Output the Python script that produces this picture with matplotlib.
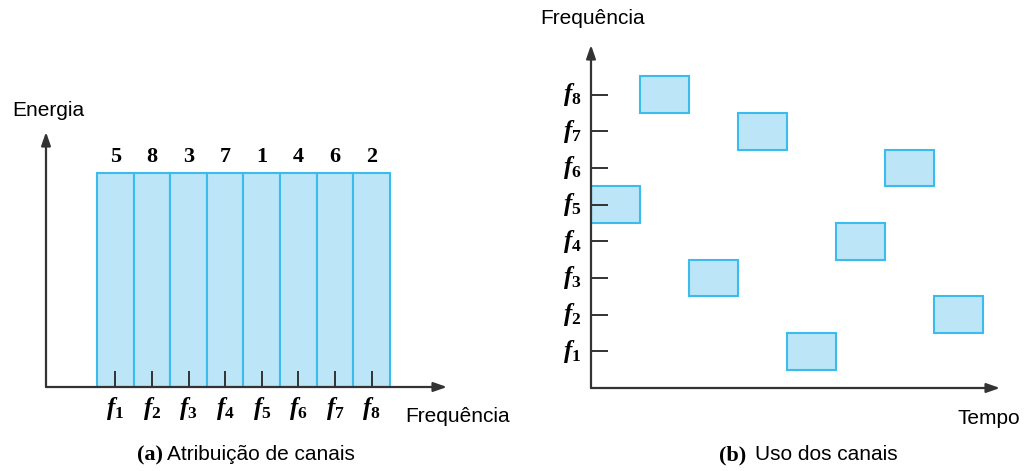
import matplotlib
matplotlib.use("Agg")
import matplotlib.pyplot as plt
import matplotlib as mpl

# channel assignment (left) and channel usage over time (right)
channels = [1, 2, 3, 4, 5, 6, 7, 8]
energy = [1, 1, 1, 1, 1, 1, 1, 1]
order_labels = ["5", "8", "3", "7", "1", "4", "6", "2"]
time_slots = [0, 1, 2, 3, 4, 5, 6, 7]
slot_freq = [5, 8, 3, 7, 1, 4, 6, 2]
freq_ticks = [1, 2, 3, 4, 5, 6, 7, 8]

mpl.rcParams.update({
    "font.family": ["Liberation Sans", "DejaVu Sans"],
    "mathtext.fontset": "custom",
    "mathtext.rm": "Liberation Serif:bold",
    "mathtext.it": "Liberation Serif:italic:bold",
    "mathtext.bf": "Liberation Serif:bold",
})

FILL = "#bde5f8"
EDGE = "#3bbcef"
AXC = "#333333"
W, H = 1025, 471

fig = plt.figure(figsize=(W / 100, H / 100), dpi=100)


def px_box(x0, y0, x1, y1):
    # pixel box (top-left origin) -> figure fraction rect
    return [x0 / W, (H - y1) / H, (x1 - x0) / W, (y1 - y0) / H]


def arrows(ax):
    kw = dict(arrowprops=dict(arrowstyle="-|>,head_length=0.8,head_width=0.28",
                              color=AXC, lw=1.6, shrinkA=0, shrinkB=0),
              xycoords="axes fraction", textcoords="axes fraction")
    ax.annotate("", xy=(1, 0), xytext=(0, 0), **kw)
    ax.annotate("", xy=(0, 1), xytext=(0, 0), **kw)


# ---- (a) channel assignment ----
ax1 = fig.add_axes(px_box(46, 132, 447, 387))
ax1.set_axis_off()
ax1.set_xlim(-0.893, 10.06)
ax1.set_ylim(0, 1.19)
ax1.bar(channels, energy, width=1.0, color=FILL, edgecolor=EDGE, linewidth=1.5)
ax1.vlines(channels, 0, 0.075, color=AXC, lw=1.4)
for c, e, lab in zip(channels, energy, order_labels):
    ax1.text(c, e + 0.075, lab, ha="center", va="center", fontsize=16,
             family="Liberation Serif", fontweight="bold")
    ax1.text(c, -0.1, r"$f_{%d}$" % c, ha="center", va="center", fontsize=18)
arrows(ax1)

# ---- (b) channel usage ----
ax2 = fig.add_axes(px_box(591, 45, 1000, 388))
ax2.set_axis_off()
ax2.set_xlim(0, 8.35)
ax2.set_ylim(0, 9.35)
ax2.bar(time_slots, [1] * len(time_slots), bottom=[f - 0.5 for f in slot_freq],
        width=1.0, align="edge", color=FILL, edgecolor=EDGE, linewidth=1.5)
ax2.hlines(freq_ticks, 0, 0.35, color=AXC, lw=1.4)
for f in freq_ticks:
    ax2.text(-0.38, f, r"$f_{%d}$" % f, ha="center", va="center", fontsize=18)
arrows(ax2)

# ---- labels ----
fs = 15
fig.text(12 / W, (H - 110) / H, "Energia", fontsize=fs, va="center", ha="left")
fig.text(405 / W, (H - 417) / H, "Frequência", fontsize=fs, va="center", ha="left")
fig.text(540 / W, (H - 19) / H, "Frequência", fontsize=fs, va="center", ha="left")
fig.text(1020 / W, (H - 418) / H, "Tempo", fontsize=fs, va="center", ha="right")

fig.text(163 / W, (H - 455) / H, "(a)", fontsize=16, va="center", ha="right",
         family="Liberation Serif", fontweight="bold")
fig.text(167 / W, (H - 455) / H, "Atribuição de canais", fontsize=fs,
         va="center", ha="left")
fig.text(746 / W, (H - 455) / H, "(b)", fontsize=16, va="center", ha="right",
         family="Liberation Serif", fontweight="bold")
fig.text(755 / W, (H - 455) / H, "Uso dos canais", fontsize=fs,
         va="center", ha="left")

fig.savefig("out.png", dpi=100)
